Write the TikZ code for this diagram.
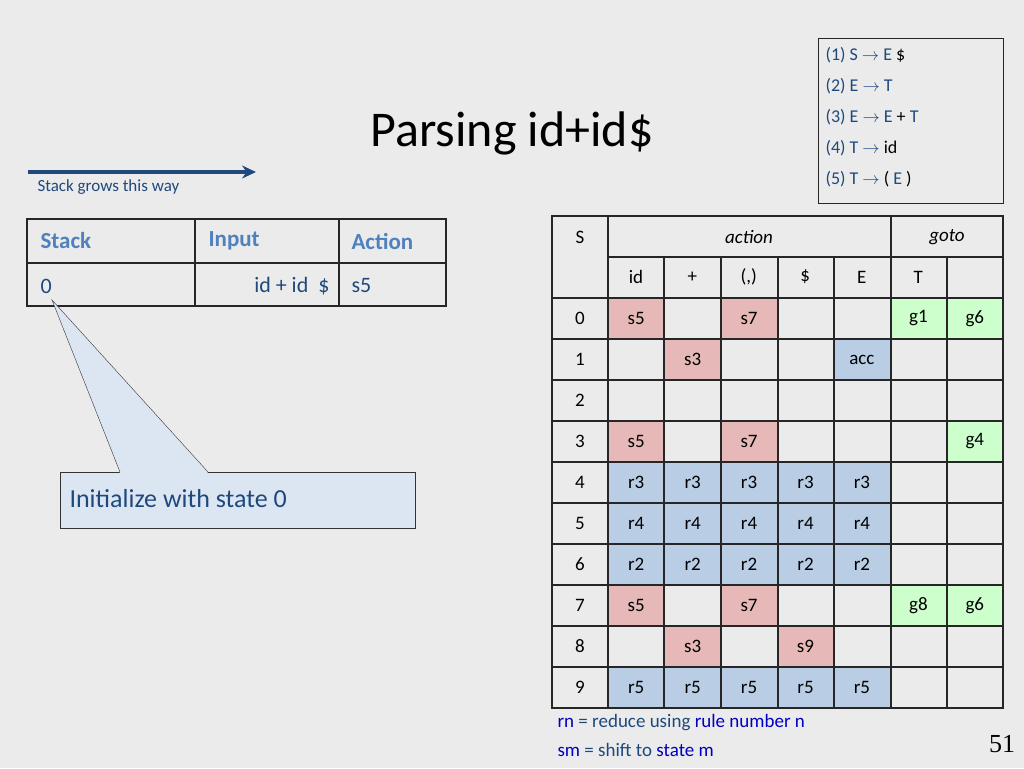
\documentclass[tikz,border=0pt]{standalone}
\usepackage{fontspec}
\setmainfont{Carlito}
\newfontfamily\numfont{Liberation Serif}
\usetikzlibrary{calc,arrows.meta}
\definecolor{slidebg}{RGB}{235,235,235}
\definecolor{navy}{RGB}{31,73,125}
\definecolor{headblue}{RGB}{79,129,189}
\definecolor{cpink}{RGB}{230,185,184}
\definecolor{cgreen}{RGB}{204,255,204}
\definecolor{cblue}{RGB}{185,205,229}
\definecolor{callfill}{RGB}{220,230,242}
\definecolor{ruleblue}{RGB}{0,0,192}
\def\firstch#1#2\relax{#1}
\tikzstyle{cell} = [draw=black!85, line width=1.2pt]
\tikzstyle{celltext} = [font=\fontsize{19}{22}\selectfont, anchor=center]
\begin{document}
\begin{tikzpicture}[x=1pt, y=-1pt]
            \fill[slidebg] (0,0) rectangle (1024,768);
            \useasboundingbox (0,0) rectangle (1024,768);
            % title and stack arrow
            \node (title) at (512,133) {\fontsize{50}{56}\selectfont Parsing id+id\$};
            \coordinate (grow0) at (28,172);
            \coordinate (grow1) at (256,172);
            \draw[navy, line width=3.5pt, -{Stealth[length=14pt,width=13pt]}] (grow0) -- (grow1);
            \node (growtext) [anchor=west, navy] at (34,187) {\fontsize{17}{20}\selectfont Stack grows this way};
            % grammar
            \node (gram) [draw=black!85, line width=1.2pt, minimum width=185pt, minimum height=165pt, anchor=north west] at (818,38) {};
            \node (rules) [anchor=north west, align=left, navy, font=\fontsize{18}{31}\selectfont] at (822,44) {
                (1) S $\rightarrow$ E \textcolor{black}{\$}\\
                (2) E $\rightarrow$ T\\
                (3) E $\rightarrow$ E \textcolor{black}{+} T\\
                (4) T $\rightarrow$ \textcolor{black}{id}\\
                (5) T $\rightarrow$ \textcolor{black}{(} E \textcolor{black}{)}
            };
            % left trace table
            \draw[cell] (27,219) rectangle (446,306);
            \draw[cell] (27,263) -- (446,263);
            \draw[cell] (195,219) -- (195,306) (339,219) -- (339,306);
            \foreach \x/\t in {37/Stack, 205/Input, 348/Action}
                \node[anchor=west, headblue, font=\fontsize{23}{26}\selectfont\bfseries] at (\x,241) {\t};
            \node (stack0) [anchor=west, navy, font=\fontsize{22}{26}\selectfont] at (37,286) {0};
            \node (input0) [anchor=east, navy, font=\fontsize{22}{26}\selectfont] at (333,286) {id + id\ \ \$};
            \node (act0) [anchor=west, navy, font=\fontsize{22}{26}\selectfont] at (348,286) {s5};
            % callout
            \node (callout) [draw=black!80, fill=callfill, minimum width=355pt, minimum height=56pt, anchor=north west] at (60,472) {};
            \coordinate (tip) at (52,300);
            \fill[callfill] (120,473) -- (tip) -- (208,473) -- cycle;
            \draw[black!80] (120,472) -- (tip) -- (208,472);
            \node (calltext) [anchor=west, navy, font=\fontsize{26}{30}\selectfont] at (66,499) {Initialize with state 0};
            % parse table header
            \draw[cell] (608,257) -- (1003,257);
            \node[celltext] at (580,237) {S};
            \node[celltext] at (749,237) {\itshape action};
            \node[celltext] at (947,237) {\itshape goto};
            \foreach \t [count=\i from 0] in {id,+,(,),\$,E,T}
                \node[celltext] at (636+56.43*\i,277) {\t};
            % parse table body
            \foreach \r/\row in {0/{s5,,s7,,,g1,g6}, 1/{,s3,,,acc,,}, 2/{,,,,,,}, 3/{s5,,s7,,,,g4},
                    4/{r3,r3,r3,r3,r3,,}, 5/{r4,r4,r4,r4,r4,,}, 6/{r2,r2,r2,r2,r2,,},
                    7/{s5,,s7,,,g8,g6}, 8/{,s3,,s9,,,}, 9/{r5,r5,r5,r5,r5,,}} {
                \pgfmathsetmacro{\ytop}{298+41*\r}
                \node[celltext] at (580,\ytop+20.5) {\r};
                \foreach \t [count=\c from 0] in \row {
                    \pgfmathsetmacro{\xl}{608+56.43*\c}
                    \if\relax\detokenize\expandafter{\t}\relax\else
                        \ifnum\c>4 \def\cc{cgreen}\else
                            \if s\expandafter\firstch\t\relax\def\cc{cpink}\else\def\cc{cblue}\fi
                        \fi
                        \fill[\cc] (\xl,\ytop) rectangle (\xl+56.43,\ytop+41);
                        \node[celltext] at (\xl+28.2,\ytop+20.5) {\t};
                    \fi
                }
                \draw[cell] (552,\ytop) -- (1003,\ytop);
            }
            \foreach \x in {608,891}
                \draw[cell] (\x,216) -- (\x,708);
            \foreach \x in {664,721,778,834,947}
                \draw[cell] (\x,257) -- (\x,708);
            \draw[cell] (552,216) rectangle (1003,708);
            % legend
            \node (legend) [anchor=north west, align=left, navy, font=\fontsize{19}{29}\selectfont] at (554,711) {
                \textcolor{ruleblue}{rn} = reduce using \textcolor{ruleblue}{rule number n}\\
                \textcolor{ruleblue}{sm} = shift to \textcolor{ruleblue}{state m}
            };
            \node (pagenum) at (1002,744) {\numfont\fontsize{26}{30}\selectfont 51};
        \end{tikzpicture}
\end{document}
